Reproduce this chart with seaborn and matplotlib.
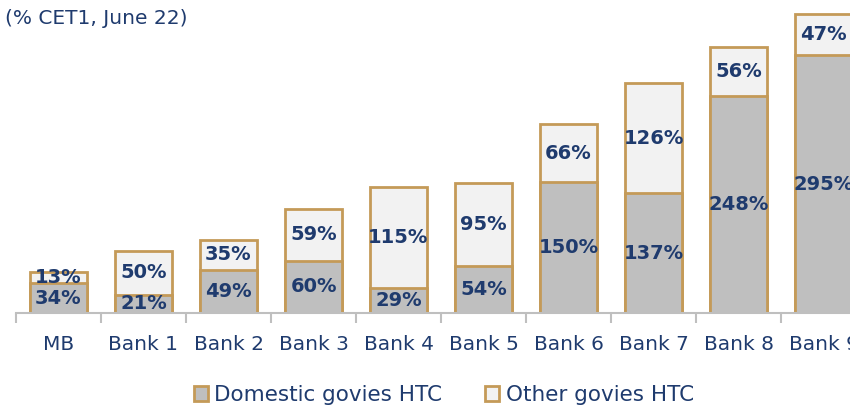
import matplotlib
matplotlib.use("Agg")
import matplotlib.pyplot as plt
import pandas as pd
import seaborn as sns
from matplotlib.patches import Patch

banks = ["MB", "Bank 1", "Bank 2", "Bank 3", "Bank 4", "Bank 5",
         "Bank 6", "Bank 7", "Bank 8", "Bank 9"]
domestic = [34, 21, 49, 60, 29, 54, 150, 137, 248, 295]
other = [13, 50, 35, 59, 115, 95, 66, 126, 56, 47]

NAVY = "#1F3B6E"
EDGE = "#C49A58"
DOM_COLOR = "#BFBFBF"
OTH_COLOR = "#F2F2F2"

sns.set_theme(style="white")
plt.rcParams["font.family"] = ["DejaVu Sans"]

df = pd.DataFrame({"bank": banks, "domestic": domestic, "other": other})
df["total"] = df["domestic"] + df["other"]

fig = plt.figure(figsize=(8.5, 4.08), dpi=100)
ax = fig.add_axes([16 / 850, 95 / 408, 1.0, 313 / 408])

# total first (other colour), then domestic drawn over it
sns.barplot(data=df, x="bank", y="total", ax=ax, color=OTH_COLOR,
            saturation=1, width=0.68, edgecolor=EDGE, linewidth=2)
sns.barplot(data=df, x="bank", y="domestic", ax=ax, color=DOM_COLOR,
            saturation=1, width=0.68, edgecolor=EDGE, linewidth=2)

for i, row in df.iterrows():
    ax.text(i, row["domestic"] / 2, f"{row['domestic']}%", ha="center", va="center",
            color=NAVY, fontsize=14, fontweight="bold")
    ax.text(i, row["domestic"] + row["other"] / 2, f"{row['other']}%", ha="center",
            va="center", color=NAVY, fontsize=14, fontweight="bold")

ax.set_xlim(-0.5, 9.5)
ax.set_ylim(0, 358)
ax.set_xlabel("")
ax.set_ylabel("")
ax.set_yticks([])
for s in ["top", "left", "right"]:
    ax.spines[s].set_visible(False)
ax.spines["bottom"].set_color("#BFBFBF")
ax.spines["bottom"].set_linewidth(1.5)

ax.set_xticks([i - 0.5 for i in range(11)], minor=True)
ax.tick_params(axis="x", which="minor", length=7, width=1.5, color="#BFBFBF",
               direction="out", bottom=True)
ax.tick_params(axis="x", which="major", length=0, pad=16, labelsize=14.5,
               labelcolor=NAVY)

fig.text(5 / 850, 1 - 18 / 408, "(% CET1, June 22)", color=NAVY, fontsize=14.5,
         va="center", ha="left")

handles = [Patch(facecolor=DOM_COLOR, edgecolor=EDGE, linewidth=2),
           Patch(facecolor=OTH_COLOR, edgecolor=EDGE, linewidth=2)]
fig.legend(handles, ["Domestic govies HTC", "Other govies HTC"],
           loc="center", bbox_to_anchor=(444 / 850, 1 - 395 / 408), ncol=2,
           frameon=False, fontsize=15.5, handlelength=0.65, handleheight=0.65,
           handletextpad=0.3, columnspacing=2.0, labelcolor=NAVY)

fig.savefig("out.png", dpi=100)
